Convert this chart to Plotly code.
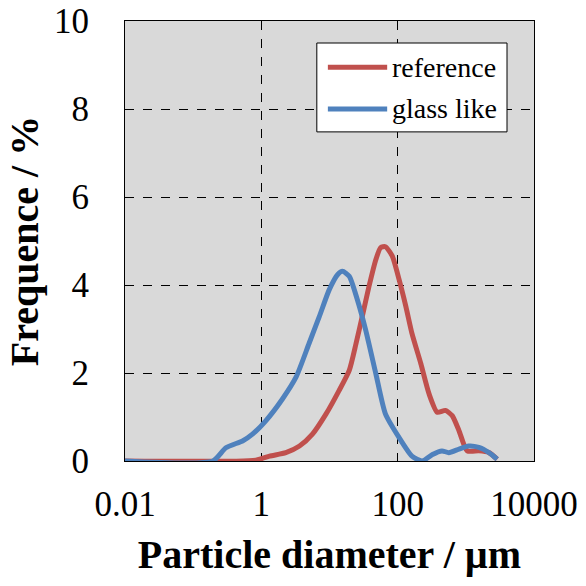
import plotly.graph_objects as go

# Data
diam_reference = [0.01, 0.832, 1.32, 2.29, 3.63, 5.62, 8.91, 13.8, 19.5, 24.5, 30.2, 38.0, 47.9,
                  56.2, 66.1, 83.2, 105, 132, 162, 219, 288, 380, 501, 631, 794, 1047, 1549, 2188, 2884]
freq_reference = [0, 0.02, 0.11, 0.19, 0.34, 0.61, 1.07, 1.6, 2.06, 2.67, 3.28, 3.97, 4.58,
                  4.85, 4.87, 4.66, 4.12, 3.51, 2.90, 2.21, 1.53, 1.11, 1.15, 1.03, 0.69, 0.23, 0.23, 0.19, 0.04]

diam_glass = [0.01, 0.195, 0.302, 0.537, 0.741, 1.17, 2.04, 3.24, 5.01, 7.08, 9.89, 13.2, 15.5,
              19.5, 25.7, 33.9, 47.9, 66.1, 105, 162, 229, 324, 447, 562, 794, 1096, 1549, 2188, 2884]
freq_glass = [0, 0, 0.3, 0.46, 0.61, 0.92, 1.41, 1.91, 2.67, 3.28, 3.89, 4.24, 4.31,
              4.2, 3.66, 2.98, 1.98, 1.07, 0.53, 0.11, 0, 0.15, 0.23, 0.19, 0.27, 0.34, 0.31, 0.19, 0.04]

series_names = ["reference", "glass like"]
series_colors = ["#C0504D", "#4F81BD"]

x_tickvals = [0.01, 1, 100, 10000]
x_ticktext = ["0.01", "1", "100", "10000"]
y_tickvals = [0, 2, 4, 6, 8, 10]

FONT = "Liberation Serif"
LW = 5

fig = go.Figure()
fig.add_trace(go.Scatter(x=diam_reference, y=freq_reference, mode="lines", name=series_names[0],
                         showlegend=False,
                         line=dict(color=series_colors[0], width=LW, shape="spline", smoothing=0.6)))
fig.add_trace(go.Scatter(x=diam_glass, y=freq_glass, mode="lines", name=series_names[1],
                         showlegend=False,
                         line=dict(color=series_colors[1], width=LW, shape="spline", smoothing=0.6)))

# Custom legend (box, sample lines, labels) in paper coordinates
lx0, lx1, ly0, ly1 = 0.469, 0.934, 0.748, 0.95
fig.add_shape(type="rect", xref="paper", yref="paper", x0=lx0, x1=lx1, y0=ly0, y1=ly1,
              fillcolor="white", line=dict(color="black", width=1), layer="above")
row_y = [0.895, 0.80]
for name, color, yy in zip(series_names, series_colors, row_y):
    fig.add_shape(type="line", xref="paper", yref="paper", x0=0.496, x1=0.641, y0=yy, y1=yy,
                  line=dict(color=color, width=LW), layer="above")
    fig.add_annotation(xref="paper", yref="paper", x=0.648, y=yy, text=name, showarrow=False,
                       xanchor="left", yanchor="middle",
                       font=dict(family=FONT, size=28, color="black"))

fig.update_layout(
    width=586, height=586,
    margin=dict(l=125, r=52, t=21, b=125),
    paper_bgcolor="white", plot_bgcolor="#D9D9D9",
    font=dict(family=FONT, color="black"),
    showlegend=False,
    xaxis=dict(type="log", range=[-2, 4], tickvals=x_tickvals, ticktext=x_ticktext,
               showgrid=True, gridcolor="black", gridwidth=1, griddash="dash",
               showline=True, linecolor="black", linewidth=1, mirror=True,
               ticks="", ticklabelstandoff=12, zeroline=False, automargin=False,
               tickfont=dict(family=FONT, size=35),
               title=dict(text="<b>Particle diameter / µm</b>", font=dict(family=FONT, size=40), standoff=16)),
    yaxis=dict(range=[0, 10], tickvals=y_tickvals,
               showgrid=True, gridcolor="black", gridwidth=1, griddash="dash",
               showline=True, linecolor="black", linewidth=1, mirror=True,
               ticks="inside", ticklen=5, tickcolor="black", ticklabelstandoff=28, zeroline=False,
               automargin=False,
               tickfont=dict(family=FONT, size=35),
               title=dict(text="<b>Frequence / %</b>", font=dict(family=FONT, size=40), standoff=3)),
)

fig.write_html("out.html")
